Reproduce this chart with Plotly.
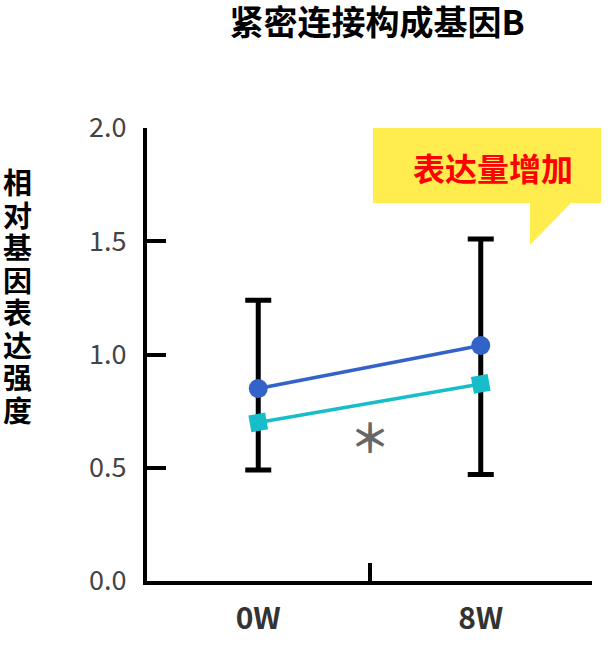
import plotly.graph_objects as go

# data
weeks = ["0W", "8W"]
blue_vals = [0.85, 1.04]
cyan_vals = [0.70, 0.87]
bar_top = [1.24, 1.51]
bar_bottom = [0.49, 0.47]
y_ticks = [0.0, 0.5, 1.0, 1.5, 2.0]
y_title = "相对基因表达强度"
title = "紧密连接构成基因B"
callout = "表达量增加"
star = "＊"

FONT = "Noto Sans CJK SC"

# plot area in page pixels: x 147..592, y 128..581
def px_x(x):
    return (x - 147) / 445

def px_y(y):
    return (581 - y) / 453

fig = go.Figure()

# blue series carries the black error bars
fig.add_trace(go.Scatter(
    x=weeks, y=blue_vals, mode="lines+markers",
    line=dict(color="#3362C9", width=3.5),
    marker=dict(color="#3362C9", size=19, symbol="circle"),
    error_y=dict(
        type="data", symmetric=False,
        array=[t - v for t, v in zip(bar_top, blue_vals)],
        arrayminus=[v - b for v, b in zip(blue_vals, bar_bottom)],
        color="black", thickness=5, width=13,
    ),
    showlegend=False,
))

fig.add_trace(go.Scatter(
    x=weeks, y=cyan_vals, mode="lines+markers",
    line=dict(color="#17BEC9", width=3.5),
    marker=dict(color="#17BEC9", size=17, symbol="square", angle=-10),
    showlegend=False,
))

# yellow speech bubble
fig.add_shape(type="rect", xref="paper", yref="paper",
              x0=px_x(373), x1=px_x(601), y0=px_y(203), y1=1.0,
              fillcolor="#FFED4F", line=dict(width=0), layer="below")
fig.add_shape(type="path", xref="paper", yref="paper",
              path=f"M {px_x(530)} {px_y(202)} L {px_x(572)} {px_y(202)} L {px_x(530)} {px_y(245)} Z",
              fillcolor="#FFED4F", line=dict(width=0), layer="below")
fig.add_annotation(x=px_x(493), y=px_y(167), xref="paper", yref="paper",
                   xanchor="center", yanchor="middle",
                   text="<b>" + callout + "</b>", showarrow=False,
                   font=dict(family=FONT, size=32, color="#FF0000"))

# significance mark
fig.add_annotation(x=0.5, y=0.64, xref="x", yref="y", text="<b>" + star + "</b>",
                   xanchor="center", yanchor="middle",
                   showarrow=False, font=dict(family=FONT, size=40, color="#666666"))

# stacked vertical y label, one character at a time (tight pitch)
for i, ch in enumerate(y_title):
    fig.add_annotation(x=px_x(17), y=px_y(181 + i * 32.5), xref="paper", yref="paper",
                       xanchor="center", yanchor="middle",
                       text="<b>" + ch + "</b>", showarrow=False,
                       font=dict(family=FONT, size=29, color="black"))

fig.update_layout(
    width=614, height=662,
    margin=dict(l=147, r=22, t=128, b=81),
    paper_bgcolor="white", plot_bgcolor="white",
    font=dict(family=FONT),
    title=dict(text="<b>" + title + "</b>", x=377 / 614, xanchor="center",
               y=1 - 23 / 662, yanchor="middle",
               font=dict(family=FONT, size=34, color="black")),
)

fig.update_xaxes(
    type="category", range=[-0.5, 1.5], tickson="boundaries",
    ticks="inside", ticklen=18, tickwidth=4, tickcolor="black",
    showline=True, linecolor="black", linewidth=4, showgrid=False, zeroline=False,
    tickfont=dict(family=FONT, size=30, color="#333333", weight="bold"),
    ticklabelstandoff=8,
)
fig.update_yaxes(
    range=[0, 2], tickvals=y_ticks, ticktext=[f"{v:.1f}" for v in y_ticks],
    ticks="inside", ticklen=19, tickwidth=4, tickcolor="black",
    showline=True, linecolor="black", linewidth=4, showgrid=False, zeroline=False,
    tickfont=dict(family=FONT, size=27, color="#444444"),
    ticklabelstandoff=11,
)

fig.write_html("out.html", config={"displayModeBar": False},
               post_script="document.body.style.margin='0';")
